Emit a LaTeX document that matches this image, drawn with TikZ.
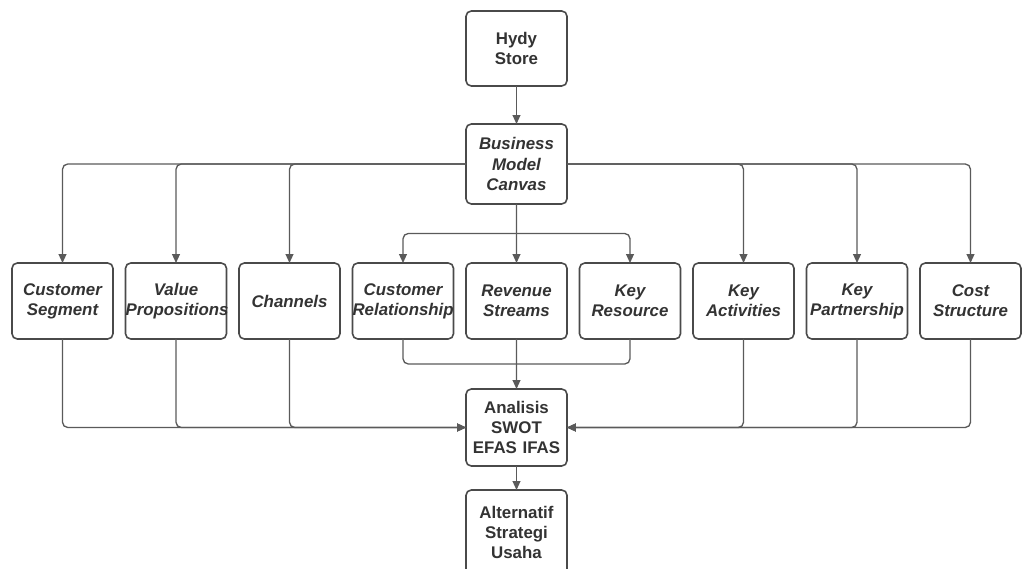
\documentclass[tikz,border=0pt]{standalone}
\usepackage{fontspec}
\setmainfont{Liberation Sans}
\usepackage{tikz}
\usetikzlibrary{arrows.meta, positioning, calc}
\definecolor{bmcline}{HTML}{5A5A5A}
\definecolor{bmcedge}{HTML}{4A4A4A}
\definecolor{bmcink}{HTML}{333333}

\begin{document}
\begin{tikzpicture}[
        box/.style={draw=bmcedge, line width=0.9pt, fill=white, rounded corners=3pt, font=\fontsize{9.6}{11.4}\selectfont\bfseries, align=center, inner xsep=0pt, outer sep=0pt, text width=2.02cm, text=bmcink, minimum width=2.02cm, minimum height=1.52cm},
        ibox/.style={box, font=\fontsize{9.6}{11.4}\selectfont\bfseries\itshape},
        arrow/.style={-{Triangle[length=5pt, width=4.4pt]}, line width=0.75pt, bmcline},
        link/.style={line width=0.75pt, bmcline, rounded corners=3pt}
    ]
        \clip (0,0) rectangle (20.44,-11.38);
        \node (hydy) [box, minimum height=1.5cm] at (10.33,-0.97) {Hydy\\Store};
        \node (bmc) [ibox, minimum height=1.6cm, below=0.76cm of hydy] {Business\\Model\\Canvas};
        \node (revenue) [ibox, below=1.18cm of bmc] {Revenue\\Streams};
        \node (relation) [ibox, left=0.25cm of revenue] {Customer\\Relationship};
        \node (channel) [ibox, left=0.25cm of relation] {Channels};
        \node (value) [ibox, left=0.25cm of channel] {Value\\Propositions};
        \node (segment) [ibox, left=0.25cm of value] {Customer\\Segment};
        \node (resource) [ibox, right=0.25cm of revenue] {Key\\Resource};
        \node (activity) [ibox, right=0.25cm of resource] {Key\\Activities};
        \node (partner) [ibox, right=0.25cm of activity] {Key\\Partnership};
        \node (cost) [ibox, right=0.25cm of partner] {Cost\\Structure};
        \node (swot) [box, minimum height=1.54cm, below=1.0cm of revenue] {Analisis\\SWOT\\EFAS IFAS};
        \node (alt) [box, minimum height=1.7cm, below=0.48cm of swot] {Alternatif\\Strategi\\Usaha};

        \coordinate (split) at ($(bmc.south)!0.5!(revenue.north)$);
        \coordinate (merge) at ($(revenue.south)!0.5!(swot.north)$);

        \draw [arrow] (hydy) -- (bmc);
        % outer blocks of the canvas
        \foreach \b in {segment, value, channel}
            \draw [arrow, rounded corners=3pt] (bmc.west) -| (\b.north);
        \foreach \b in {activity, partner, cost}
            \draw [arrow, rounded corners=3pt] (bmc.east) -| (\b.north);
        % inner blocks
        \draw [link] (bmc.south) -- (split);
        \draw [arrow, rounded corners=3pt] (split) -| (relation.north);
        \draw [arrow] (split) -- (revenue.north);
        \draw [arrow, rounded corners=3pt] (split) -| (resource.north);

        \draw [link] (relation.south) |- (merge);
        \draw [link] (resource.south) |- (merge);
        \draw [link] (revenue.south) -- (merge);
        \draw [arrow] (merge) -- (swot.north);

        \foreach \b in {segment, value, channel}
            \draw [arrow, rounded corners=3pt] (\b.south) |- (swot.west);
        \foreach \b in {activity, partner, cost}
            \draw [arrow, rounded corners=3pt] (\b.south) |- (swot.east);

        \draw [arrow] (swot) -- (alt);
    \end{tikzpicture}
\end{document}
